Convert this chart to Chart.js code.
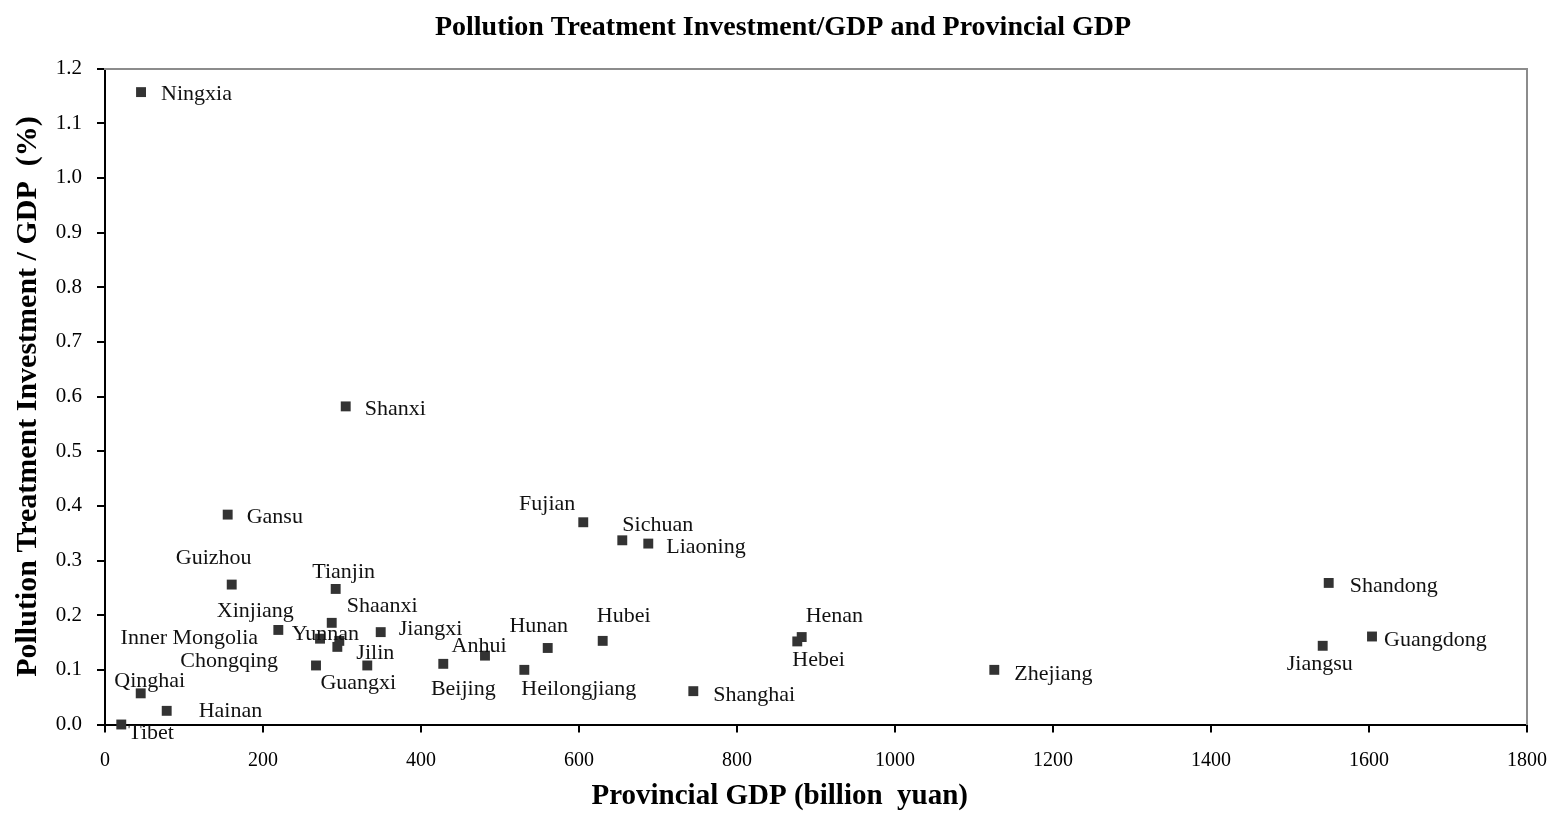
<!DOCTYPE html>
<html>
<head>
<meta charset="utf-8">
<script src="https://cdn.jsdelivr.net/npm/chart.js@4/dist/chart.umd.min.js"></script>
<style>
  html, body { margin: 0; padding: 0; background: #fff; }
  #wrap { width: 1566px; height: 822px; }
</style>
</head>
<body>
<div id="wrap"><canvas id="myChart"></canvas></div>
<script>
// provinces, GDP (billion yuan) and pollution treatment investment / GDP (%)
const provinces = ['Ningxia','Shanxi','Gansu','Guizhou','Tianjin','Xinjiang','Shaanxi','Inner Mongolia','Yunnan','Jilin',
  'Jiangxi','Chongqing','Guangxi','Qinghai','Hainan','Tibet','Beijing','Anhui','Hunan','Heilongjiang',
  'Hubei','Shanghai','Fujian','Sichuan','Liaoning','Henan','Hebei','Zhejiang','Shandong','Guangdong','Jiangsu'];
const gdp = [45.6, 304.7, 155.3, 160.4, 292.0, 219.4, 287.0, 272.2, 296.6, 294.1,
  349.0, 267.1, 332.0, 45.2, 78.1, 20.6, 428.2, 481.0, 560.4, 530.8,
  630.0, 744.7, 605.4, 654.8, 687.7, 881.9, 876.3, 1125.7, 1549.0, 1603.8, 1541.4];
const ratio = [1.157, 0.582, 0.384, 0.256, 0.248, 0.173, 0.186, 0.157, 0.153, 0.142,
  0.169, 0.108, 0.108, 0.057, 0.025, 0.0, 0.111, 0.126, 0.140, 0.100,
  0.153, 0.061, 0.370, 0.337, 0.331, 0.160, 0.152, 0.100, 0.259, 0.161, 0.144];
const xTicks = [0, 200, 400, 600, 800, 1000, 1200, 1400, 1600, 1800];
const yTicks = [0, 0.1, 0.2, 0.3, 0.4, 0.5, 0.6, 0.7, 0.8, 0.9, 1.0, 1.1, 1.2];

// where each name sits relative to its marker: [dx, dy, align]
const labelPlace = [[20,2,'left'],[19,3,'left'],[19,3,'left'],[-18,-26,'center'],[8,-17,'center'],[-23,-19,'center'],[15,-17,'left'],[-62,0,'right'],[-14,-7,'center'],[19,6,'left'],
  [18,-3,'left'],[-38,-4,'right'],[-9,18,'center'],[9,-12,'center'],[32,0,'left'],[7,9,'left'],[20,25,'center'],[-6,-9,'center'],[-9,-22,'center'],[-3,19,'left'],
  [21,-25,'center'],[20,4,'left'],[-8,-18,'right'],[0,-15,'left'],[18,4,'left'],[4,-21,'left'],[-5,19,'left'],[20,4,'left'],[21,3,'left'],[12,4,'left'],[-3,18,'center']];

const serif = '"Liberation Serif", "Times New Roman", serif';

const pointLabels = {
  id: 'pointLabels',
  afterDatasetsDraw(chart) {
    const ctx = chart.ctx;
    const meta = chart.getDatasetMeta(0);
    ctx.save();
    ctx.font = '22px ' + serif;
    ctx.fillStyle = '#111';
    ctx.textBaseline = 'middle';
    meta.data.forEach((pt, i) => {
      const p = labelPlace[i];
      ctx.textAlign = p[2];
      ctx.fillText(provinces[i], pt.x + p[0], pt.y + p[1]);
    });
    ctx.restore();
  }
};

const points = gdp.map((g, i) => ({ x: g, y: ratio[i] }));

// empty axes on top and right: grey frame lines
const frameAxis = (pos, size) => ({
  type: 'linear',
  position: pos,
  afterFit: s => { if (pos === 'top') s.height = size; else s.width = size; },
  border: { display: true, color: '#8c8c8c', width: 2 },
  grid: { display: true, drawOnChartArea: false, drawTicks: false },
  ticks: { display: false }
});

new Chart(document.getElementById('myChart').getContext('2d'), {
  type: 'scatter',
  data: {
    datasets: [{
      data: points,
      pointStyle: 'rect',
      pointRadius: 7,
      pointHoverRadius: 7,
      backgroundColor: '#333',
      borderColor: '#333',
      borderWidth: 0,
      clip: false
    }]
  },
  options: {
    responsive: true,
    maintainAspectRatio: false,
    animation: false,
    layout: { padding: 0 },
    plugins: {
      legend: { display: false },
      tooltip: { enabled: false },
      title: {
        display: true,
        text: 'Pollution Treatment Investment/GDP and Provincial GDP',
        color: '#000',
        font: { family: serif, size: 28, weight: 'bold' },
        padding: { top: 11, bottom: 24 }
      }
    },
    scales: {
      x: {
        type: 'linear',
        min: 0, max: 1800,
        afterBuildTicks: s => { s.ticks = xTicks.map(v => ({ value: v })); },
        afterFit: s => { s.height = 97.5; },
        border: { color: '#000', width: 2 },
        grid: { drawOnChartArea: false, drawTicks: true, tickLength: 8, color: '#000', lineWidth: 2 },
        ticks: { color: '#000', padding: 16, font: { family: serif, size: 20 }, callback: v => String(v) },
        title: {
          display: true,
          text: 'Provincial GDP (billion  yuan)\u00a0\u00a0\u00a0\u00a0\u00a0\u00a0\u00a0\u00a0\u00a0\u00a0',
          color: '#000',
          font: { family: serif, size: 29, weight: 'bold' },
          padding: { top: 0, bottom: 8 }
        }
      },
      y: {
        type: 'linear',
        min: 0, max: 1.2,
        afterBuildTicks: s => { s.ticks = yTicks.map(v => ({ value: v })); },
        afterFit: s => { s.width = 105; },
        border: { color: '#000', width: 2 },
        grid: { drawOnChartArea: false, drawTicks: true, tickLength: 8, color: '#000', lineWidth: 2 },
        ticks: { color: '#000', padding: 15, font: { family: serif, size: 21 }, callback: v => v.toFixed(1) },
        title: {
          display: true,
          text: 'Pollution Treatment Investment / GDP  (%)',
          color: '#000',
          font: { family: serif, size: 30, weight: 'bold' },
          padding: { top: 10, bottom: 0 }
        }
      },
      xTop: frameAxis('top', 0),
      yRight: frameAxis('right', 39)
    }
  },
  plugins: [pointLabels]
});
</script>
</body>
</html>
